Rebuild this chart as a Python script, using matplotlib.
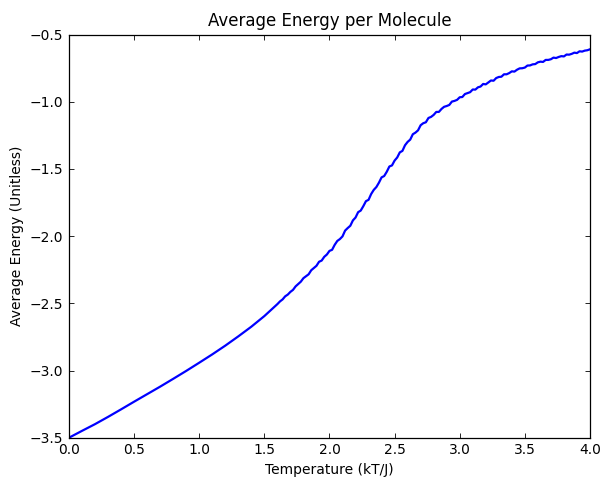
import numpy as np
import matplotlib
matplotlib.use('Agg')
import matplotlib.pyplot as plt

# Low temperature part is smooth, sampled coarser
temps_low = np.round(np.arange(0.0, 1.55, 0.1), 2)
energy_low = [-3.500, -3.449, -3.399, -3.345, -3.289, -3.232, -3.176, -3.120,
              -3.062, -3.003, -2.942, -2.880, -2.815, -2.746, -2.674, -2.595]

# Fluctuating part around the transition and above
temps_high = np.round(np.arange(1.6, 4.001, 0.02), 2)
energy_high = [
    -2.506, -2.486, -2.471, -2.448, -2.435, -2.415, -2.400, -2.374, -2.356, -2.339,
    -2.313, -2.299, -2.284, -2.254, -2.238, -2.221, -2.191, -2.182, -2.154, -2.137,
    -2.110, -2.102, -2.065, -2.036, -2.022, -2.002, -1.959, -1.940, -1.923, -1.883,
    -1.862, -1.822, -1.810, -1.777, -1.740, -1.730, -1.687, -1.656, -1.635, -1.602,
    -1.563, -1.553, -1.521, -1.482, -1.474, -1.438, -1.415, -1.377, -1.366, -1.324,
    -1.299, -1.282, -1.242, -1.230, -1.213, -1.175, -1.160, -1.153, -1.121, -1.113,
    -1.098, -1.076, -1.076, -1.054, -1.038, -1.032, -1.024, -0.999, -0.994, -0.986,
    -0.967, -0.965, -0.943, -0.936, -0.929, -0.909, -0.910, -0.893, -0.887, -0.868,
    -0.871, -0.856, -0.842, -0.844, -0.824, -0.816, -0.814, -0.796, -0.796, -0.787,
    -0.774, -0.776, -0.762, -0.752, -0.751, -0.746, -0.731, -0.730, -0.722, -0.720,
    -0.707, -0.702, -0.704, -0.689, -0.689, -0.684, -0.672, -0.675, -0.667, -0.661,
    -0.663, -0.649, -0.650, -0.644, -0.635, -0.638, -0.625, -0.627, -0.620, -0.617,
    -0.610]

temps = np.concatenate([temps_low, temps_high])
energy = np.concatenate([energy_low, energy_high])

plt.rcParams['xtick.direction'] = 'in'
plt.rcParams['ytick.direction'] = 'in'
plt.rcParams['xtick.top'] = True
plt.rcParams['ytick.right'] = True

fig = plt.figure(figsize=(6.02, 4.78), dpi=100)
ax = fig.add_axes([0.1146, 0.0843, 0.8654, 0.8435])
ax.plot(temps, energy, color='b', lw=1.6)

ax.set_xlim(0.0, 4.0)
ax.set_ylim(-3.5, -0.5)
ax.set_xticks(np.arange(0.0, 4.01, 0.5))
ax.set_yticks(np.arange(-3.5, -0.49, 0.5))
ax.tick_params(labelsize=10, length=3.5, width=0.6, pad=4)
for s in ax.spines.values():
    s.set_linewidth(0.9)

ax.set_title('Average Energy per Molecule', fontsize=12, pad=6)
ax.set_xlabel('Temperature (kT/J)', fontsize=10)
ax.set_ylabel('Average Energy (Unitless)', fontsize=10)

fig.savefig('out.png', dpi=100)
